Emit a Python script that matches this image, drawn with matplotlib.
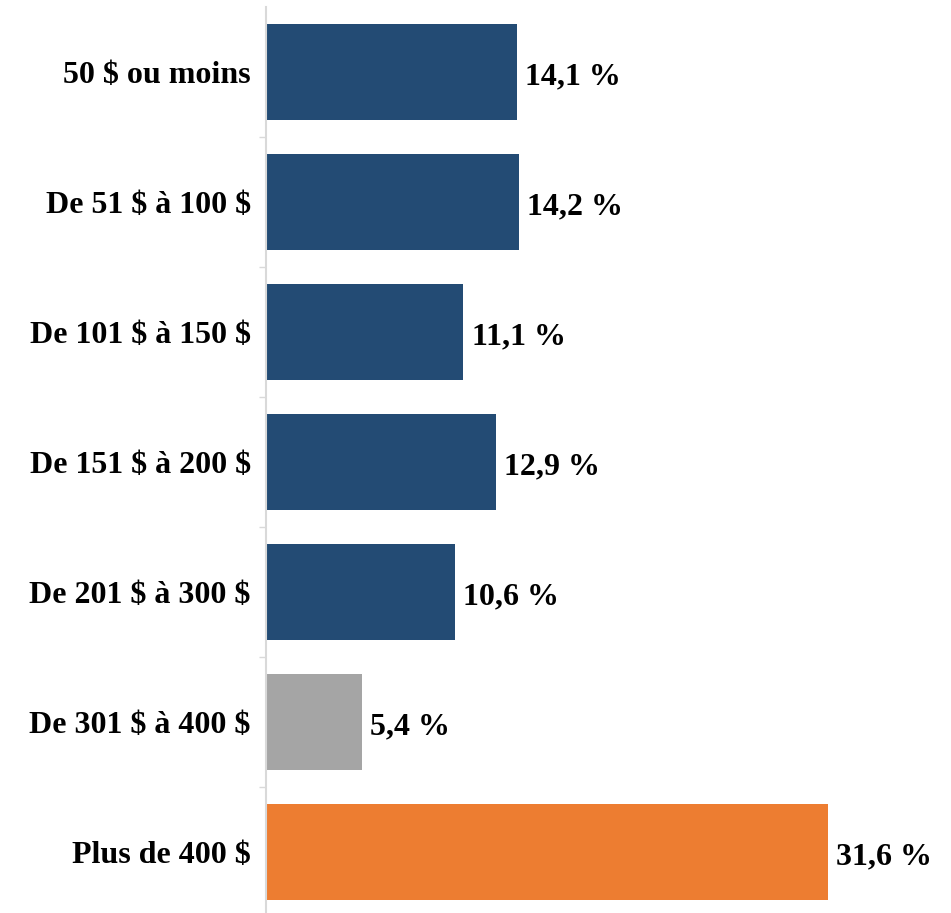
import matplotlib.pyplot as plt

categories = ["50 $ ou moins", "De 51 $ à 100 $", "De 101 $ à 150 $", "De 151 $ à 200 $",
              "De 201 $ à 300 $", "De 301 $ à 400 $", "Plus de 400 $"]
values = [14.1, 14.2, 11.1, 12.9, 10.6, 5.4, 31.6]
labels = ["14,1 %", "14,2 %", "11,1 %", "12,9 %", "10,6 %", "5,4 %", "31,6 %"]
colors = ["#234B74"] * 5 + ["#A5A5A5", "#ED7D31"]

plt.rcParams["font.family"] = ["Liberation Serif", "DejaVu Serif"]
plt.rcParams["font.weight"] = "bold"
plt.rcParams["text.parse_math"] = False

fig = plt.figure(figsize=(9.51, 9.13), dpi=100)
ax = fig.add_axes([266 / 951, 0, 1 - 266 / 951, 1 - 7 / 913])

pos = list(range(len(categories)))
ax.barh(pos, values, height=0.74, color=colors)

for p, v, t in zip(pos, values, labels):
    ax.text(v + 0.45, p + 0.04, t, va="center", ha="left", fontsize=23, fontweight="bold")

ax.set_ylim(6.47, -0.5)
ax.set_xlim(0, 38.5)
ax.set_yticks(pos)
ax.set_yticklabels(categories, fontsize=23, fontweight="bold")
ax.tick_params(axis="y", which="major", length=0, pad=11)
ax.set_yticks([p + 0.5 for p in pos[:-1]], minor=True)
ax.tick_params(axis="y", which="minor", length=5, color="#D9D9D9", width=1)
ax.set_xticks([])
for s in ["top", "right", "bottom"]:
    ax.spines[s].set_visible(False)
ax.spines["left"].set_color("#D9D9D9")
ax.spines["left"].set_linewidth(1.5)

fig.savefig("out.png", dpi=100)
